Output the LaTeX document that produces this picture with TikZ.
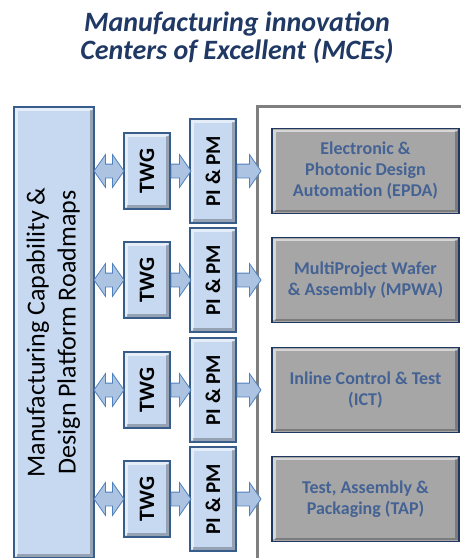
\documentclass[tikz,border=0pt]{standalone}
\usepackage{fontspec}
\setmainfont{Carlito}
\usepackage{tikz}
\usetikzlibrary{calc, arrows.meta}
\usetikzlibrary{positioning, shapes.arrows}
\definecolor{titleblue}{RGB}{31,56,100}
\definecolor{boxblue}{RGB}{198,217,241}
\definecolor{boxline}{RGB}{56,93,138}
\definecolor{arrowfill}{RGB}{172,196,226}
\definecolor{arrowline}{RGB}{79,129,189}
\definecolor{mcegray}{RGB}{166,166,166}
\definecolor{mceline}{RGB}{31,56,95}
\definecolor{mcetext}{RGB}{68,98,148}
\definecolor{framegray}{RGB}{127,127,127}
\tikzset{
  bevel/.style={path picture={
    \draw[white, opacity=.55, line width=2.5pt]
      ([shift={(2.5pt,2.5pt)}]path picture bounding box.south west) |- ([shift={(-2.5pt,-2.5pt)}]path picture bounding box.north east);
    \draw[black, opacity=.25, line width=2.5pt]
      ([shift={(2.5pt,2.5pt)}]path picture bounding box.south west) -| ([shift={(-2.5pt,-2.5pt)}]path picture bounding box.north east);
  }},
  bluebox/.style={draw=boxline, line width=1.2pt, fill=boxblue, bevel, inner sep=0pt},
  twgbox/.style={bluebox, minimum width=46pt, minimum height=76pt, font=\bfseries\fontsize{22}{22}\selectfont},
  pipmbox/.style={bluebox, minimum width=46pt, minimum height=104pt, font=\bfseries\fontsize{21}{21}\selectfont},
  mcebox/.style={draw=mceline, line width=1.6pt, fill=mcegray, bevel, inner sep=0pt,
    minimum width=187pt, minimum height=85pt, align=center, text=mcetext,
    font=\bfseries\fontsize{18}{21}\selectfont},
  sarrow/.style={single arrow, draw=arrowline, fill=arrowfill, line width=.8pt,
    inner xsep=0pt, inner ysep=6.5pt, single arrow head extend=9.5pt, single arrow tip angle=110},
  darrow/.style={double arrow, draw=arrowline, fill=arrowfill, line width=.8pt,
    inner xsep=0pt, inner ysep=6.5pt, double arrow head extend=9.5pt, double arrow tip angle=110,
    minimum height=30pt},
}
\begin{document}
\begin{tikzpicture}[x=1pt, y=-1pt]
    \useasboundingbox (0,0) rectangle (461,558);
    \node[text=titleblue, align=center, font=\bfseries\itshape\fontsize{28}{28}\selectfont] (title) at (237,38)
      {Manufacturing innovation\\Centers of Excellent (MCEs)};
    \draw[framegray, line width=3pt] (257,560) -- (257,106) -- (463,106);
    \node[bluebox, minimum width=80pt, minimum height=451pt, font=\fontsize{26}{31}\selectfont] (roadmap) at (54,332.5)
      {\rotatebox{90}{\begin{tabular}{@{}c@{}}Manufacturing Capability \&\\Design Platform Roadmaps\end{tabular}}};
    \node[twgbox] (twg1) at (147,171) {\rotatebox{90}{TWG}};
    \node[pipmbox] (pipm1) at (213,171) {\rotatebox{90}{PI \& PM}};
    \node[mcebox] (mce1) at (365.5,171) {Electronic \&\\Photonic Design\\Automation (EPDA)};
    \node[twgbox] (twg2) at (147,280) {\rotatebox{90}{TWG}};
    \node[pipmbox] (pipm2) at (213,280) {\rotatebox{90}{PI \& PM}};
    \node[mcebox] (mce2) at (365.5,280) {MultiProject Wafer\\\& Assembly (MPWA)};
    \node[twgbox] (twg3) at (147,390) {\rotatebox{90}{TWG}};
    \node[pipmbox] (pipm3) at (213,390) {\rotatebox{90}{PI \& PM}};
    \node[mcebox] (mce3) at (365.5,390) {Inline Control \& Test\\(ICT)};
    \node[twgbox] (twg4) at (147,499) {\rotatebox{90}{TWG}};
    \node[pipmbox] (pipm4) at (213,499) {\rotatebox{90}{PI \& PM}};
    \node[mcebox] (mce4) at (365.5,499) {Test, Assembly \&\\Packaging (TAP)};
    \path (roadmap.east |- twg1) -- (twg1.west) node[darrow, midway] (link1) {};
    \path (twg1.east) -- (pipm1.west) node[sarrow, minimum height=20pt, pos=0, anchor=tail] (flow1) {};
    \path (pipm1.east) -- (mce1.west) node[sarrow, minimum height=24pt, pos=0, anchor=tail] (feed1) {};
    \path (roadmap.east |- twg2) -- (twg2.west) node[darrow, midway] (link2) {};
    \path (twg2.east) -- (pipm2.west) node[sarrow, minimum height=20pt, pos=0, anchor=tail] (flow2) {};
    \path (pipm2.east) -- (mce2.west) node[sarrow, minimum height=24pt, pos=0, anchor=tail] (feed2) {};
    \path (roadmap.east |- twg3) -- (twg3.west) node[darrow, midway] (link3) {};
    \path (twg3.east) -- (pipm3.west) node[sarrow, minimum height=20pt, pos=0, anchor=tail] (flow3) {};
    \path (pipm3.east) -- (mce3.west) node[sarrow, minimum height=24pt, pos=0, anchor=tail] (feed3) {};
    \path (roadmap.east |- twg4) -- (twg4.west) node[darrow, midway] (link4) {};
    \path (twg4.east) -- (pipm4.west) node[sarrow, minimum height=20pt, pos=0, anchor=tail] (flow4) {};
    \path (pipm4.east) -- (mce4.west) node[sarrow, minimum height=24pt, pos=0, anchor=tail] (feed4) {};
\end{tikzpicture}
\end{document}
